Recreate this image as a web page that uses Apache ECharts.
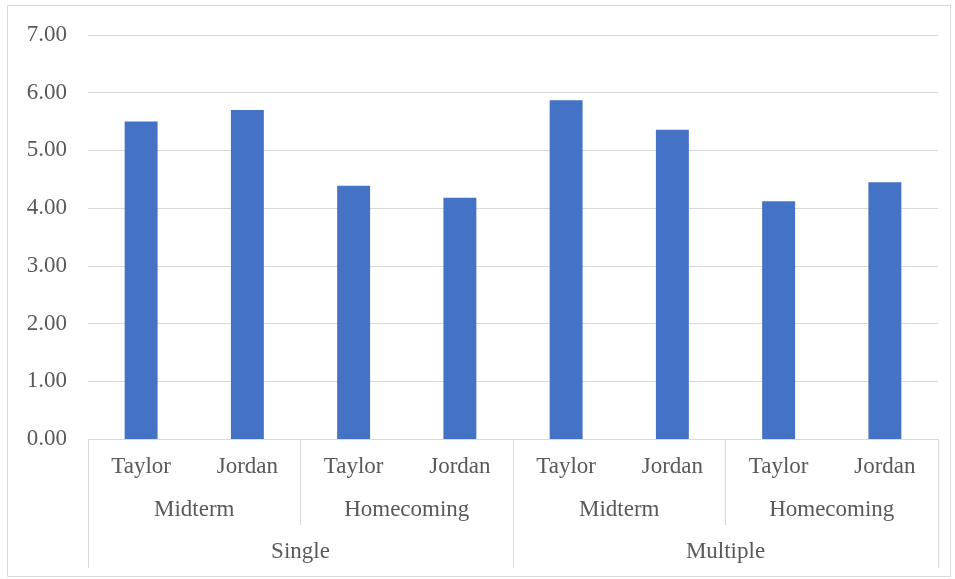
<!DOCTYPE html>
<html>
<head>
<meta charset="utf-8">
<script src="https://cdn.jsdelivr.net/npm/echarts@6/dist/echarts.min.js"></script>
<style>
  html, body { margin: 0; padding: 0; background: #fff; }
  #chart { width: 955px; height: 579px; }
</style>
</head>
<body>
<div id="chart"></div>
<script>
// data
var people = ["Taylor", "Jordan", "Taylor", "Jordan", "Taylor", "Jordan", "Taylor", "Jordan"];
var events = ["Midterm", "Homecoming", "Midterm", "Homecoming"];
var modes = ["Single", "Multiple"];
var scores = [5.50, 5.70, 4.39, 4.18, 5.87, 5.36, 4.12, 4.45];

var txt = "#595959";
var line = "#d9d9d9";
var font = "Liberation Serif";

var myChart = echarts.init(document.getElementById("chart"));

function levelAxis(idx, cats, margin, tickLen, showLine) {
  return {
    type: "category",
    gridIndex: 0,
    position: "bottom",
    data: cats,
    boundaryGap: true,
    axisLine: { show: showLine, lineStyle: { color: line, width: 1 } },
    axisTick: { show: tickLen > 0, interval: 0, length: tickLen, lineStyle: { color: line, width: 1 } },
    axisLabel: { interval: 0, margin: margin, color: txt, fontFamily: font, fontSize: 23 },
    splitLine: { show: false }
  };
}

var option = {
  animation: false,
  graphic: [{
    type: "rect",
    shape: { x: 7.5, y: 5.5, width: 943, height: 571 },
    style: { fill: "none", stroke: line, lineWidth: 1 }
  }],
  grid: { left: 88, right: 17, top: 35, bottom: 140 },
  xAxis: [
    levelAxis(0, people, 16, 0, true),
    levelAxis(1, events, 59, 86, false),
    levelAxis(2, modes, 101, 129, false)
  ],
  yAxis: {
    type: "value",
    min: 0,
    max: 7,
    interval: 1,
    axisLine: { show: false },
    axisTick: { show: false },
    splitLine: { lineStyle: { color: line, width: 1 } },
    axisLabel: {
      margin: 21,
      color: txt,
      fontFamily: font,
      fontSize: 23,
      formatter: function (v) { return v.toFixed(2); }
    }
  },
  series: [{
    type: "bar",
    xAxisIndex: 0,
    data: scores,
    barWidth: "31%",
    itemStyle: { color: "#4472c4" }
  }]
};
myChart.setOption(option, true);
</script>
</body>
</html>
